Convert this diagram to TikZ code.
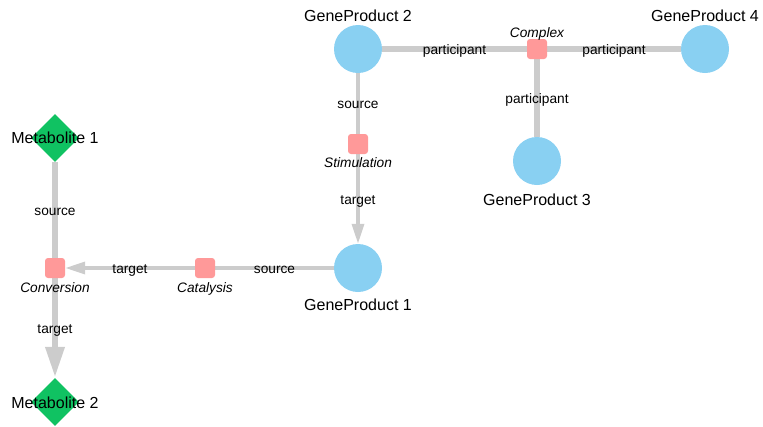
\documentclass[tikz,border=0pt]{standalone}
\usepackage{fontspec}
\setmainfont{Liberation Sans}
\usetikzlibrary{shapes.geometric,arrows.meta,backgrounds}

\definecolor{metgreen}{RGB}{16,194,98}
\definecolor{geneblue}{RGB}{137,208,242}
\definecolor{procpink}{RGB}{255,153,153}
\definecolor{edgegray}{RGB}{204,204,204}

\begin{document}
\begin{tikzpicture}[x=1pt,y=-1pt,
  metabolite/.style={diamond, fill=metgreen, minimum width=48pt, minimum height=48pt, inner sep=0pt},
  gene/.style={circle, fill=geneblue, minimum size=48pt, inner sep=0pt},
  process/.style={rectangle, rounded corners=3pt, fill=procpink, minimum size=20pt, inner sep=0pt},
  entlabel/.style={font=\fontsize{16}{19}\selectfont, anchor=base, inner sep=0pt},
  typelabel/.style={font=\fontsize{13.7}{16}\selectfont\itshape, anchor=base, inner sep=0pt},
  thinedge/.style={draw=edgegray, line width=3.5pt},
  heavyedge/.style={draw=edgegray, line width=6.5pt},
  thinarrow/.style={-{Triangle[length=20pt,width=12pt]}},
  heavyarrow/.style={-{Triangle[length=31pt,width=18pt]}},
  elabel/.style={font=\fontsize{13.7}{16}\selectfont, text height=0.52em, text depth=0pt, inner sep=0pt, midway, yshift=-2.5pt}
]
\useasboundingbox (0,0) rectangle (763,426);

% entities
\node[metabolite] (met1) at (55,138) {};
\node[metabolite] (met2) at (55,402) {};
\node[gene] (gp1) at (358,268) {};
\node[gene] (gp2) at (358,49) {};
\node[gene] (gp3) at (537,161) {};
\node[gene] (gp4) at (705,49) {};

% processes
\node[process] (conv) at (55,268) {};
\node[process] (cat) at (205,268) {};
\node[process] (stim) at (358,144) {};
\node[process] (cplx) at (537,49) {};

% names
\node[entlabel] (met1-name) at (55,143) {Metabolite 1};
\node[entlabel] (met2-name) at (55,408) {Metabolite 2};
\node[entlabel] (gp1-name) at (358,310) {GeneProduct 1};
\node[entlabel] (gp2-name) at (358,21.5) {GeneProduct 2};
\node[entlabel] (gp3-name) at (537,205) {GeneProduct 3};
\node[entlabel] (gp4-name) at (705,21.5) {GeneProduct 4};
\node[typelabel] (conv-name) at (55,292) {Conversion};
\node[typelabel] (cat-name) at (205,292) {Catalysis};
\node[typelabel] (stim-name) at (358,167) {Stimulation};
\node[typelabel] (cplx-name) at (537,37) {Complex};

% interactions
\begin{scope}[on background layer]
  \draw[heavyedge] (met1) -- node[elabel] {source} (conv);
  \draw[heavyedge, heavyarrow] (conv) -- node[elabel] {target} (met2);
  \draw[thinedge, thinarrow] (cat) -- node[elabel] {target} (conv);
  \draw[thinedge] (gp1) -- node[elabel] {source} (cat);
  \draw[thinedge] (gp2) -- node[elabel] {source} (stim);
  \draw[thinedge, thinarrow] (stim) -- node[elabel] {target} (gp1);
  \draw[heavyedge] (gp2) -- node[elabel] {participant} (cplx);
  \draw[heavyedge] (cplx) -- node[elabel] {participant} (gp4);
  \draw[heavyedge] (cplx) -- node[elabel] {participant} (gp3);
\end{scope}
\end{tikzpicture}
\end{document}
